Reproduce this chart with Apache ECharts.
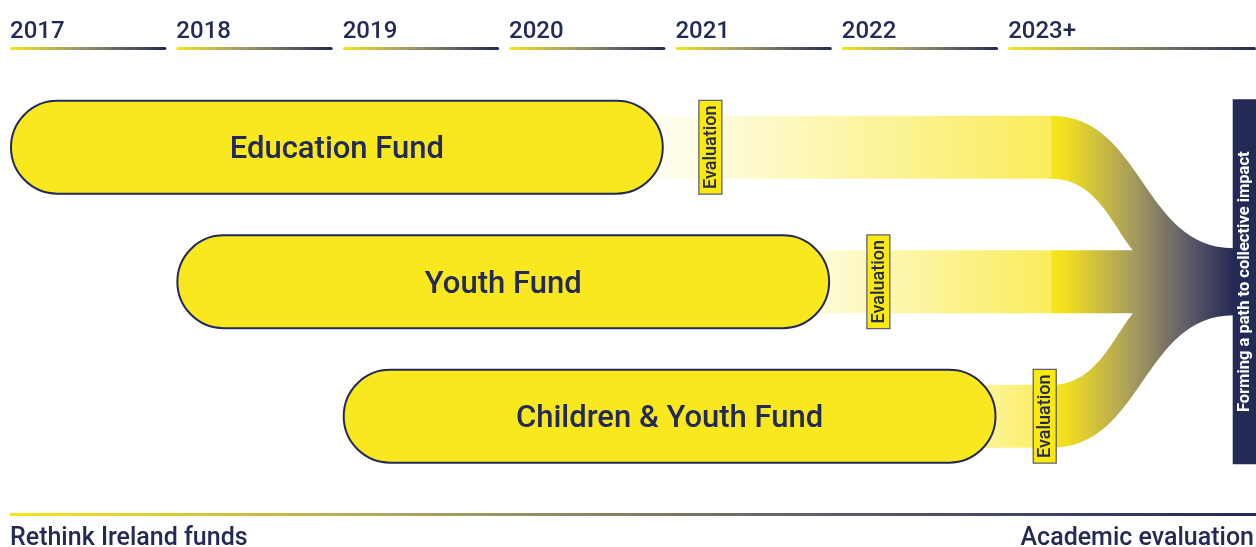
<!DOCTYPE html>
<html><head><meta charset="utf-8">
<script src="https://cdn.jsdelivr.net/npm/echarts@6/dist/echarts.min.js"></script>
<style>html,body{margin:0;padding:0;background:#fff}#c{width:1256px;height:547px}</style>
</head><body><div id="c"></div>
<script>
// ---- data ----
const yearStarts = [2017, 2018, 2019, 2020, 2021, 2022, 2023];
const yearLabels = ['2017', '2018', '2019', '2020', '2021', '2022', '2023+'];
const funds = ['Education Fund', 'Youth Fund', 'Children & Youth Fund'];
const fundStart = [2017, 2018, 2019];
const fundEnd = [2020.93, 2021.93, 2022.93];
const evaluationYear = [2021.21, 2022.22, 2023.22];
const evaluationLabel = 'Evaluation';
const mergeStart = 2023.26;
const mergeJoin = 2023.75;
const impactStart = 2024.35;
const xMax = 2024.49;
const impactLabel = 'Forming a path to collective impact';
const footerLeft = 'Rethink Ireland funds';
const footerRight = 'Academic evaluation';

// ---- style ----
const NAVY = '#232A55', YEL = '#F9E81E', FONT = 'Roboto';
const PILL_H = 0.69, BAND_H = 0.468, MERGE_H = 0.498, BAR_H = 2.715;
const bandStartAlpha = [0.07, 0.2, 0.5];

const chart = echarts.init(document.getElementById('c'), null, {renderer: 'canvas'});

function ruleGradient(x0, x1) {
  return {type: 'linear', x: x0, y: 0, x2: x1, y2: 0, global: true,
    colorStops: [{offset: 0, color: '#F6E51E'}, {offset: 0.45, color: '#9C956A'}, {offset: 1, color: NAVY}]};
}

const option = {
  animation: false,
  grid: {left: 10, width: 1246, top: 80, height: 403.5},
  xAxis: {
    type: 'value', min: 2017, max: xMax, interval: 1, position: 'top',
    axisLine: {show: false}, axisTick: {show: false}, splitLine: {show: false},
    axisLabel: {
      margin: 48, align: 'left', verticalAlign: 'middle', color: NAVY,
      fontSize: 24, fontWeight: 500, fontFamily: FONT, showMaxLabel: false,
      formatter: function (v) {
        const i = yearStarts.indexOf(Math.round(v));
        return (i >= 0 && Math.abs(v - Math.round(v)) < 1e-6) ? yearLabels[i] : '';
      }
    }
  },
  yAxis: {type: 'value', min: -0.5, max: 2.5, inverse: true, show: false},
  graphic: [
    {type: 'text', left: 10, top: 526, style: {text: footerLeft, fill: NAVY, font: '500 25px Roboto'}},
    {type: 'text', right: 2, top: 526, style: {text: footerRight, fill: NAVY, font: '500 25px Roboto'}}
  ],
  series: [
    // year underlines
    {
      type: 'custom', clip: false, z: 1,
      data: yearStarts.map(function (y, i) { return [y, i]; }),
      renderItem: function (params, api) {
        const cs = params.coordSys;
        const y = api.value(0), i = api.value(1);
        const x0 = api.coord([y, 0])[0];
        const x1 = i < yearStarts.length - 1 ? api.coord([y + 1, 0])[0] - 10 : cs.x + cs.width;
        const ly = cs.y - 31.5;
        return {type: 'line', shape: {x1: x0 + 1.5, y1: ly, x2: x1 - 1.5, y2: ly},
          style: {stroke: ruleGradient(x0, x1), lineWidth: 3, lineCap: 'round'}};
      }
    },
    // bottom rule
    {
      type: 'custom', clip: false, z: 1,
      data: [[2017, xMax]],
      renderItem: function (params, api) {
        const cs = params.coordSys;
        const x0 = api.coord([api.value(0), 0])[0], x1 = api.coord([api.value(1), 0])[0];
        const ly = cs.y + cs.height + 31;
        return {type: 'line', shape: {x1: x0, y1: ly, x2: x1, y2: ly},
          style: {stroke: {type: 'linear', x: x0, y: 0, x2: x1, y2: 0, global: true,
            colorStops: [{offset: 0, color: '#F6E51E'}, {offset: 0.3, color: '#B0A75E'}, {offset: 0.65, color: '#5F5E68'}, {offset: 1, color: NAVY}]},
            lineWidth: 3}};
      }
    },
    // fading bands
    {
      type: 'custom', clip: false, z: 2,
      data: funds.map(function (f, i) { return [fundEnd[i], mergeStart, i]; }),
      encode: {x: [0, 1], y: 2},
      renderItem: function (params, api) {
        const i = api.value(2);
        const xs = api.coord([api.value(0), i]);
        const xe = api.coord([api.value(1), i])[0];
        const h = api.size([0, BAND_H])[1];
        const a0 = bandStartAlpha[i];
        return {type: 'rect', shape: {x: xs[0] - 40, y: xs[1] - h / 2, width: xe - xs[0] + 41, height: h},
          style: {fill: {type: 'linear', x: xs[0], y: 0, x2: xe, y2: 0, global: true,
            colorStops: [{offset: 0, color: 'rgba(249,232,30,' + a0 + ')'}, {offset: 1, color: 'rgba(248,230,40,0.76)'}]}}};
      }
    },
    // merging flow into the impact bar
    {
      type: 'custom', clip: false, z: 2,
      data: [[mergeStart, mergeJoin, impactStart]],
      encode: {x: [0, 1, 2]},
      renderItem: function (params, api) {
        const xm = api.coord([api.value(0), 0])[0];
        const xi = api.coord([api.value(1), 0])[0];
        const xb = api.coord([api.value(2), 0])[0] + 1;
        const r0 = api.coord([0, 0])[1], r1 = api.coord([0, 1])[1], r2 = api.coord([0, 2])[1];
        const bh = api.size([0, BAND_H])[1] / 2, mh = api.size([0, MERGE_H])[1] / 2;
        const dx = xb - xm, di = xi - xm;
        const dyU = (r1 - bh) - (r0 + bh), dyL = (r2 - bh) - (r1 + bh);
        const p = [];
        p.push('M', xm, r0 - bh);
        p.push('C', xm + 0.5 * dx, r0 - bh, xb - 0.5 * dx, r1 - mh, xb, r1 - mh);
        p.push('L', xb, r1 + mh);
        p.push('C', xb - 0.5 * dx, r1 + mh, xm + 0.5 * dx, r2 + bh, xm, r2 + bh);
        p.push('L', xm, r2 - bh);
        p.push('C', xm + 0.55 * di, r2 - bh, xi - 0.25 * di, (r1 + bh) + 0.35 * dyL, xi, r1 + bh);
        p.push('L', xm, r1 + bh);
        p.push('L', xm, r1 - bh);
        p.push('L', xi, r1 - bh);
        p.push('C', xi - 0.25 * di, (r1 - bh) - 0.35 * dyU, xm + 0.55 * di, r0 + bh, xm, r0 + bh);
        p.push('Z');
        return {type: 'path', shape: {pathData: p.join(' ')},
          style: {fill: {type: 'linear', x: xm, y: 0, x2: xb, y2: 0, global: true,
            colorStops: [{offset: 0, color: '#F8E61C'}, {offset: 0.08, color: '#F1DF20'},
              {offset: 0.45, color: '#A69B5C'}, {offset: 0.72, color: '#65606A'}, {offset: 1, color: NAVY}]}}};
      }
    },
    // fund pills
    {
      type: 'custom', clip: false, z: 3,
      data: funds.map(function (f, i) { return [fundStart[i], fundEnd[i], i]; }),
      encode: {x: [0, 1], y: 2},
      renderItem: function (params, api) {
        const i = api.value(2);
        const s = api.coord([api.value(0), i]);
        const e = api.coord([api.value(1), i]);
        const h = api.size([0, PILL_H])[1];
        return {type: 'group', children: [
          {type: 'rect', shape: {x: s[0] + 1, y: s[1] - h / 2, width: e[0] - s[0] - 2, height: h, r: h / 2},
            style: {fill: YEL, stroke: NAVY, lineWidth: 2}},
          {type: 'text', x: (s[0] + e[0]) / 2, y: s[1] + 3,
            style: {text: funds[i], fill: NAVY, fontSize: 31, fontWeight: 500, fontFamily: FONT, align: 'center', verticalAlign: 'middle'}}
        ]};
      }
    },
    // evaluation boxes
    {
      type: 'custom', clip: false, z: 4,
      data: funds.map(function (f, i) { return [evaluationYear[i], i]; }),
      renderItem: function (params, api) {
        const i = api.value(1);
        const c = api.coord([api.value(0), i]);
        const h = api.size([0, PILL_H])[1] + 1;
        const w = 23;
        return {type: 'group', children: [
          {type: 'rect', shape: {x: c[0] - w / 2, y: c[1] - h / 2, width: w, height: h},
            style: {fill: '#FCE90C', stroke: '#5E6278', lineWidth: 1.3}},
          {type: 'text', x: c[0] + 1, y: c[1], rotation: Math.PI / 2,
            style: {text: evaluationLabel, fill: NAVY, fontSize: 18, fontWeight: 500, fontFamily: FONT, align: 'center', verticalAlign: 'middle'}}
        ]};
      }
    },
    // impact bar
    {
      type: 'custom', clip: false, z: 4,
      data: [[impactStart, xMax, 1]],
      encode: {x: [0, 1], y: 2},
      renderItem: function (params, api) {
        const s = api.coord([api.value(0), api.value(2)]);
        const e = api.coord([api.value(1), api.value(2)]);
        const h = api.size([0, BAR_H])[1];
        return {type: 'group', children: [
          {type: 'rect', shape: {x: s[0], y: s[1] - h / 2, width: e[0] - s[0], height: h}, style: {fill: NAVY}},
          {type: 'text', x: (s[0] + e[0]) / 2 + 1, y: s[1], rotation: Math.PI / 2,
            style: {text: impactLabel, fill: '#FFFFFF', fontSize: 16.5, fontWeight: 'bold', fontFamily: FONT, align: 'center', verticalAlign: 'middle'}}
        ]};
      }
    }
  ]
};
chart.setOption(option);
</script>
</body></html>
